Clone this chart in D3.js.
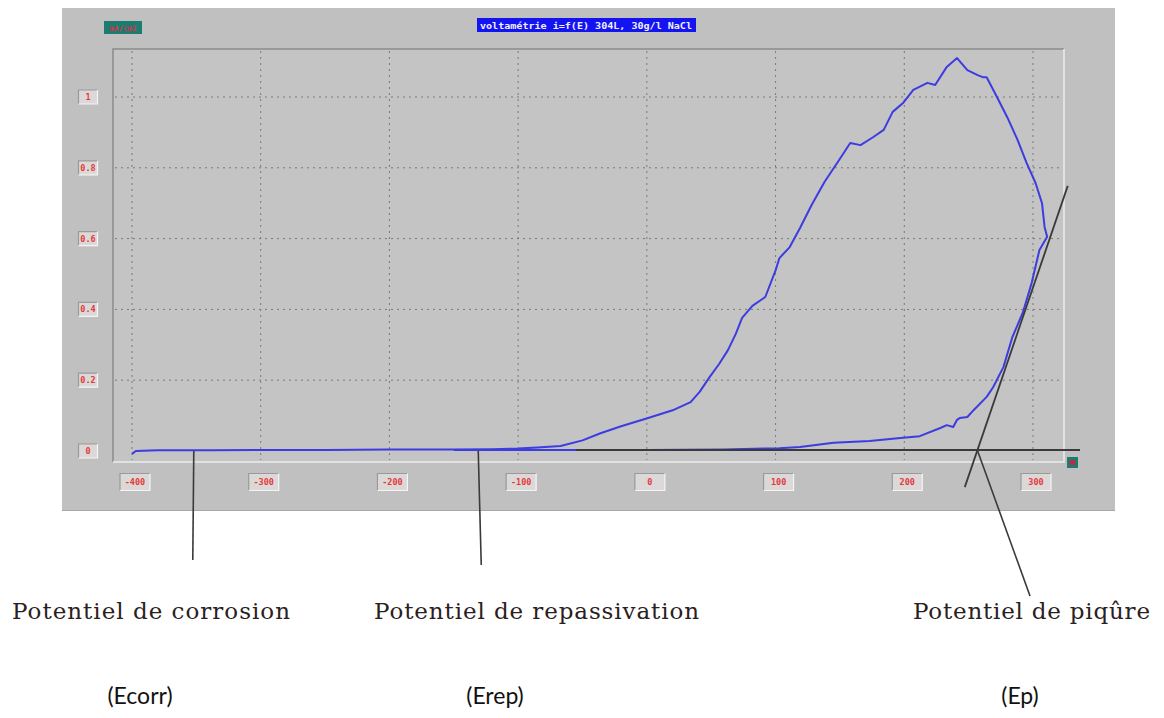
<!DOCTYPE html>
<html>
<head>
<meta charset="utf-8">
<script src="https://cdn.jsdelivr.net/npm/d3@7"></script>
<style>
  html, body { margin: 0; padding: 0; background: #ffffff; }
  svg { display: block; }
</style>
</head>
<body>
<svg id="chart" width="1164" height="718"></svg>
<script>
// Potential ticks (mV) and current ticks (mA)
const xTicks = [-400, -300, -200, -100, 0, 100, 200, 300];
const yTicks = [0, 0.2, 0.4, 0.6, 0.8, 1];
const yTickLabels = ["0", "0.2", "0.4", "0.6", "0.8", "1"];

// Forward scan: potential (mV) and current (mA)
const fwdPotential = [-400, -397, -380, -340, -300, -250, -200, -150, -120, -100, -85, -67, -50, -36, -20, 1, 20, 34, 41, 49, 56, 63, 69, 74, 82, 92, 100, 103, 111, 119, 128, 138, 149, 158, 166, 176, 184, 191, 199, 207, 218, 224, 233, 241, 249, 257, 261, 264, 272, 280, 288, 295, 302, 307, 309, 311];
const fwdCurrent = [-0.008, 0.000, 0.002, 0.002, 0.003, 0.003, 0.004, 0.004, 0.005, 0.007, 0.010, 0.014, 0.030, 0.050, 0.070, 0.093, 0.115, 0.138, 0.167, 0.210, 0.245, 0.285, 0.330, 0.376, 0.410, 0.435, 0.510, 0.545, 0.576, 0.630, 0.695, 0.760, 0.820, 0.870, 0.864, 0.887, 0.907, 0.958, 0.983, 1.020, 1.040, 1.034, 1.085, 1.110, 1.076, 1.062, 1.056, 1.056, 1.000, 0.943, 0.879, 0.814, 0.757, 0.700, 0.633, 0.605];

// Reverse scan: potential (mV) and current (mA)
const revPotential = [311, 305, 299, 292, 284, 277, 269, 264, 254, 249, 243, 241, 238, 233, 228, 212, 197, 173, 145, 119, 103, 60, 0, -60, -150];
const revCurrent = [0.605, 0.568, 0.475, 0.390, 0.322, 0.237, 0.180, 0.153, 0.116, 0.096, 0.093, 0.088, 0.068, 0.073, 0.065, 0.042, 0.037, 0.028, 0.023, 0.011, 0.008, 0.004, 0.003, 0.003, 0.003];

// Characteristic potentials (mV)
const eCorr = -352;
const eRep = -131;
const ePit = 257;
// Tangent to the reverse branch: two points (mV, mA)
const tangentPotential = [247, 327];
const tangentCurrent = [-0.102, 0.749];

const labels = ["Potentiel de corrosion", "Potentiel de repassivation", "Potentiel de piqûre"];
const symbols = ["(Ecorr)", "(Erep)", "(Ep)"];
const title = "voltamétrie i=f(E) 304L, 30g/l NaCl";

const svg = d3.select("#chart");

const x = d3.scaleLinear().domain([-400, 300]).range([132, 1033]);
const y = d3.scaleLinear().domain([0, 1]).range([451, 97]);

// Instrument window
svg.append("rect").attr("x", 62).attr("y", 8).attr("width", 1053).attr("height", 502)
  .attr("fill", "#c0c0c0");
svg.append("line").attr("x1", 62).attr("x2", 1115).attr("y1", 510.5).attr("y2", 510.5)
  .attr("stroke", "#a8a8a8").attr("stroke-width", 1);

// Plot area with sunken border
const pa = { l: 113, t: 49, r: 1064, b: 462 };
svg.append("rect").attr("x", pa.l).attr("y", pa.t).attr("width", pa.r - pa.l).attr("height", pa.b - pa.t)
  .attr("fill", "#c4c4c4");
svg.append("path").attr("d", `M${pa.l},${pa.b} V${pa.t} H${pa.r}`)
  .attr("fill", "none").attr("stroke", "#8a8a8a").attr("stroke-width", 1.5);
svg.append("path").attr("d", `M${pa.r},${pa.t} V${pa.b} H${pa.l}`)
  .attr("fill", "none").attr("stroke", "#ececec").attr("stroke-width", 1.5);

// Grid
const grid = svg.append("g").attr("stroke", "#7a7a6e").attr("stroke-width", 1)
  .attr("stroke-dasharray", "2,4");
grid.selectAll("line.v").data(xTicks).join("line").attr("class", "v")
  .attr("x1", d => x(d)).attr("x2", d => x(d)).attr("y1", pa.t + 2).attr("y2", pa.b - 2);
grid.selectAll("line.h").data(yTicks.slice(1)).join("line").attr("class", "h")
  .attr("y1", d => y(d)).attr("y2", d => y(d)).attr("x1", pa.l + 2).attr("x2", pa.r - 2);

// Tick label boxes
function tickBox(g, cx, cy, w, h, text) {
  g.append("rect").attr("x", cx - w / 2).attr("y", cy - h / 2).attr("width", w).attr("height", h)
    .attr("fill", "#dcd8d8");
  g.append("path").attr("d", `M${cx - w / 2},${cy + h / 2} V${cy - h / 2} H${cx + w / 2}`)
    .attr("fill", "none").attr("stroke", "#9a9a9a").attr("stroke-width", 1.2);
  g.append("path").attr("d", `M${cx + w / 2},${cy - h / 2} V${cy + h / 2} H${cx - w / 2}`)
    .attr("fill", "none").attr("stroke", "#f4f4f4").attr("stroke-width", 1.2);
  g.append("text").attr("x", cx).attr("y", cy + 3).attr("text-anchor", "middle")
    .attr("font-family", "DejaVu Sans Mono, monospace").attr("font-size", 8.5)
    .attr("font-weight", "bold").attr("fill", "#e23a3a").text(text);
}
const yAxisG = svg.append("g");
yTicks.forEach((t, i) => tickBox(yAxisG, 88, y(t), 19, 14, yTickLabels[i]));
const xAxisG = svg.append("g");
xTicks.forEach(t => tickBox(xAxisG, x(t) + 3, 482, 30, 17, String(t)));

// Title badge
svg.append("rect").attr("x", 477).attr("y", 18).attr("width", 219).attr("height", 14)
  .attr("fill", "#1414f0");
svg.append("text").attr("x", 586).attr("y", 28.5).attr("text-anchor", "middle")
  .attr("font-family", "DejaVu Sans Mono, monospace").attr("font-size", 8.5).attr("font-weight", "bold")
  .attr("fill", "#f0f0ff").attr("textLength", 212).attr("lengthAdjust", "spacingAndGlyphs").text(title);

// Unit badge top-left and corner marker
svg.append("rect").attr("x", 104).attr("y", 21).attr("width", 38).attr("height", 13).attr("fill", "#1d7c70");
svg.append("text").attr("x", 123).attr("y", 30.5).attr("text-anchor", "middle")
  .attr("font-family", "DejaVu Sans Mono, monospace").attr("font-size", 7.5).attr("font-weight", "bold")
  .attr("fill", "#d8304a").text("mA/cm2");
svg.append("rect").attr("x", 1067).attr("y", 457).attr("width", 11).attr("height", 11).attr("fill", "#1d7c70");
svg.append("rect").attr("x", 1069.5).attr("y", 460).attr("width", 6).attr("height", 5).attr("fill", "#b03048");

// Curve
const line = d3.line().x(d => x(d[0])).y(d => y(d[1])).curve(d3.curveLinear);
const fwd = fwdPotential.map((p, i) => [p, fwdCurrent[i]]);
const rev = revPotential.map((p, i) => [p, revCurrent[i]]);
svg.append("path").datum(fwd.concat(rev)).attr("d", line)
  .attr("fill", "none").attr("stroke", "#3c3ce0").attr("stroke-width", 2).attr("stroke-linejoin", "round");

// Annotations
const ink = "#3a3a3a";
// baseline under the reverse branch
svg.append("line").attr("x1", x(-55)).attr("x2", 1080).attr("y1", y(0) - 1).attr("y2", y(0) - 1)
  .attr("stroke", ink).attr("stroke-width", 1.8);
// tangent
svg.append("line")
  .attr("x1", x(tangentPotential[0])).attr("y1", y(tangentCurrent[0]))
  .attr("x2", x(tangentPotential[1])).attr("y2", y(tangentCurrent[1]))
  .attr("stroke", ink).attr("stroke-width", 1.8);
// leader lines
svg.append("line").attr("x1", x(eCorr)).attr("y1", y(0)).attr("x2", x(eCorr) - 1).attr("y2", 560)
  .attr("stroke", ink).attr("stroke-width", 1.6);
svg.append("line").attr("x1", x(eRep)).attr("y1", y(0)).attr("x2", x(eRep) + 3).attr("y2", 565)
  .attr("stroke", ink).attr("stroke-width", 1.6);
svg.append("line").attr("x1", x(ePit)).attr("y1", y(0)).attr("x2", 1030).attr("y2", 596)
  .attr("stroke", ink).attr("stroke-width", 1.6);

// Labels
const labelPos = [[12, 278], [374, 325], [913, 237]];
labels.forEach((t, i) => {
  svg.append("text").attr("x", labelPos[i][0]).attr("y", 619)
    .attr("font-family", "DejaVu Serif, serif").attr("font-size", 23)
    .attr("fill", "#2b2020").attr("textLength", labelPos[i][1]).attr("lengthAdjust", "spacing").text(t);
});
const symPos = [140, 495, 1020];
symbols.forEach((t, i) => {
  svg.append("text").attr("x", symPos[i]).attr("y", 704).attr("text-anchor", "middle")
    .attr("font-family", "Lato, sans-serif").attr("font-size", 23)
    .attr("fill", "#111").text(t);
});
</script>
</body>
</html>
